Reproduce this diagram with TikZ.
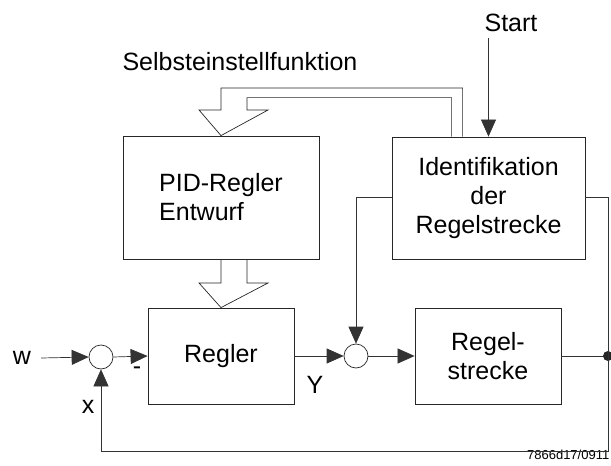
\documentclass[tikz,border=0pt]{standalone}
\usepackage{fontspec}
\setmainfont{Liberation Sans}
\usetikzlibrary{arrows.meta,calc}
\begin{document}
\begin{tikzpicture}[x=1pt,y=-1pt,
  blk/.style={draw=black!85,line width=0.8pt,inner sep=0pt,align=center,
    font=\fontsize{25}{29}\selectfont},
  sumc/.style={circle,draw=black!85,line width=0.7pt,minimum size=24pt,inner sep=0pt},
  lbl/.style={inner sep=0pt,font=\fontsize{25}{29}\selectfont},
  conn/.style={draw=black!80,line width=0.7pt},
  arr/.style={conn,-{Triangle[length=17pt,width=15pt]}},
  hollow/.style={draw=black!85,line width=0.7pt,line join=miter}]
\useasboundingbox (0,0) rectangle (611,466);
% blocks
\node[blk,minimum width=196pt,minimum height=123pt,align=left] (pid) at (221,197.5) {PID-Regler\\Entwurf};
\node[blk,minimum width=193pt,minimum height=122pt] (ident) at (488.5,198) {Identifikation\\der\\Regelstrecke};
\node[blk,minimum width=146pt,minimum height=96pt] (regler) at (221,356) {Regler};
\node[blk,minimum width=146pt,minimum height=96pt] (strecke) at (488,356) {Regel-\\strecke};
\node[sumc] (s1) at (101,357) {};
\node[sumc] (s2) at (356,356) {};
% labels
\node[lbl] (w) at (22,358) {w};
\node[lbl] (xl) at (88,407) {x};
\node[lbl] (minus) at (137,371) {-};
\node[lbl] (yl) at (315,385) {Y};
\node[lbl] (start) at (511,23) {Start};
\node[lbl] (selbst) at (240,62) {Selbsteinstellfunktion};
\node[inner sep=0pt,anchor=east,font=\fontsize{13}{15}\selectfont] (code) at (609.5,455) {7866d17/0911};
% coordinates
\coordinate (dot) at (608,356);
\coordinate (fbr) at (608,451);
\coordinate (fbl) at (101,451);
\coordinate (idr) at (608,197);
\coordinate (idl) at (356,197);
% connectors
\draw[arr] (w.east) ++(10,0) -- (s1.west);
\draw[arr] (s1.east) -- (regler.west);
\draw[arr] (regler.east) -- (s2.west);
\draw[arr] (s2.east) -- (strecke.west);
\draw[conn] (strecke.east) -- (dot);
\fill[black!85] (dot) circle (5pt);
\draw[conn] (ident.east |- idr) -- (idr) -- (fbr) -- (fbl);
\draw[arr] (fbl) -- (s1.south);
\draw[conn] (ident.west |- idl) -- (idl);
\draw[arr] (idl) -- (s2.north);
\draw[arr] (start.south -| ident.north) ++(0,6) -- (ident.north);
% hollow arrow from identification to PID design
\draw[hollow] ($(ident.north west)+(71,0)$) |- (221,88) -- (221,110) -- (199,110)
  -- (pid.north) -- (268,110) -- (247,110) |- ($(ident.north west)+(60,-39)$) -- ($(ident.north west)+(60,0)$);
% hollow arrow from PID design to controller
\draw[hollow] (pid.south -| 221,0) -- (221,283) -- (199,283) -- (regler.north)
  -- (268,283) -- (247,283) -- (pid.south -| 247,0);
\end{tikzpicture}
\end{document}
